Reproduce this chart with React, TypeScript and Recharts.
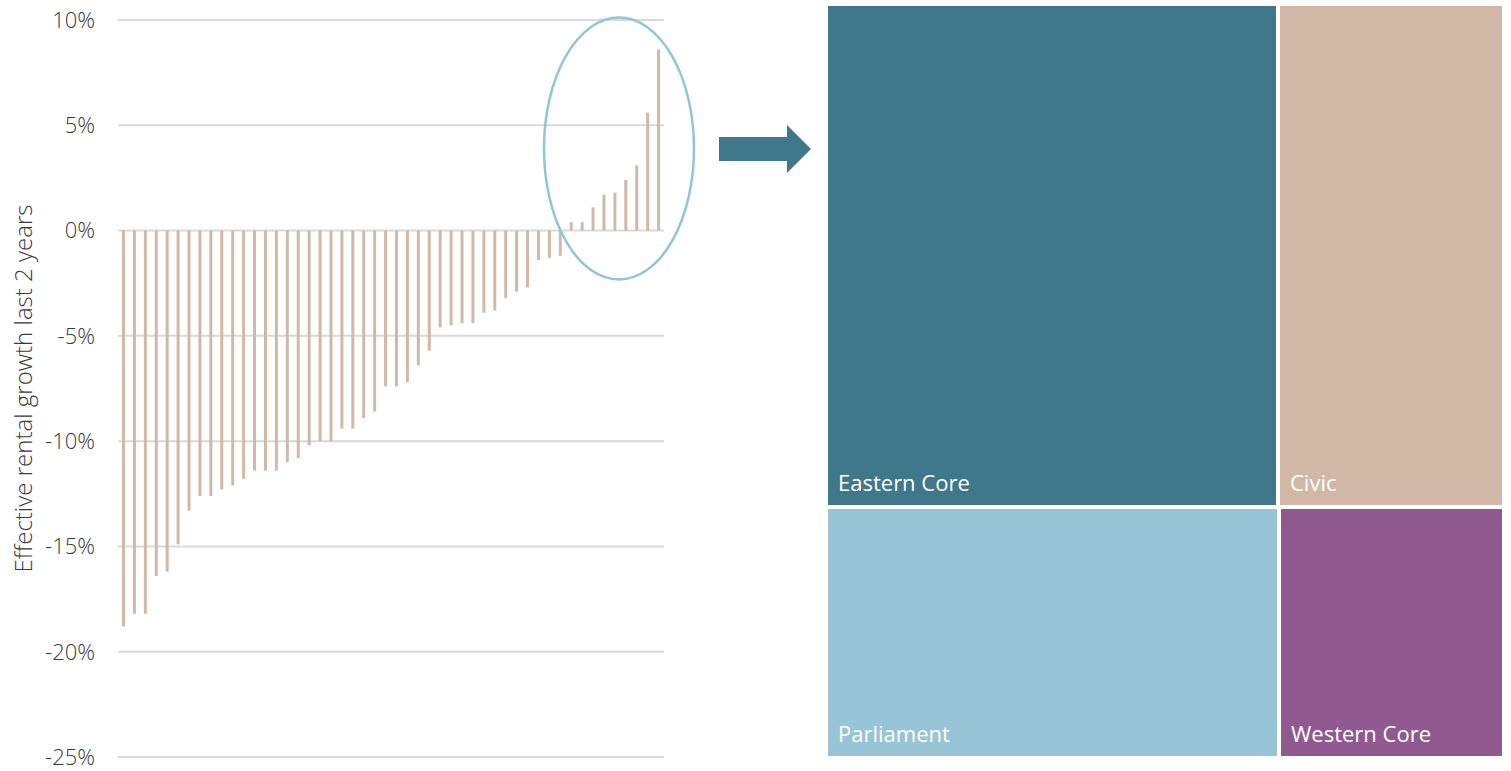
import React from 'react';
import { BarChart, Bar, XAxis, YAxis, CartesianGrid, Treemap } from 'recharts';

// Effective rental growth over the last 2 years, per submarket, sorted ascending (%)
const growthValues = [
  -18.8, -18.2, -18.2, -16.4, -16.2, -14.9, -13.3, -12.6, -12.6, -12.3,
  -12.1, -11.8, -11.4, -11.4, -11.4, -11.0, -10.8, -10.2, -10.0, -10.0,
  -9.4, -9.4, -8.9, -8.6, -7.4, -7.4, -7.2, -6.4, -5.7, -4.6,
  -4.5, -4.4, -4.4, -3.9, -3.8, -3.2, -2.9, -2.7, -1.4, -1.3,
  -1.2, 0.4, 0.4, 1.1, 1.7, 1.8, 2.4, 3.1, 5.6, 8.6,
];
const submarkets = growthValues.map((_, i) => `Submarket ${i + 1}`);
const yTicks = [-25, -20, -15, -10, -5, 0, 5, 10];

// Share of the positive-growth submarkets by precinct
const precinctNames = ['Eastern Core', 'Civic', 'Parliament', 'Western Core'];
const precinctShares = [40, 20, 20, 10];
const precinctColors = ['#40788b', '#d1b8a6', '#98c5d5', '#905a91'];

const barData = submarkets.map((name, i) => ({ name, growth: growthValues[i] }));
const treeData = precinctNames.map((name, i) => ({ name, size: precinctShares[i], idx: i }));

const FONT = '"Open Sans", "Segoe UI", sans-serif';

const PrecinctCell = (props: any) => {
  const { x, y, width, height, depth, name, idx } = props;
  if (depth !== 1) return null;
  const gap = 2;
  const rx = x + gap;
  const ry = y + gap;
  const rw = width - gap * 2;
  const rh = height - gap * 2;
  return (
    <g>
      <rect x={rx} y={ry} width={rw} height={rh} fill={precinctColors[idx]} stroke="none" />
      <text
        x={rx + 10}
        y={ry + rh - 14}
        fill="#ffffff"
        fontSize={22}
        fontFamily={FONT}
        stroke="none"
      >
        {name}
      </text>
    </g>
  );
};

const AxisTitle = (props: any) => {
  const vb = props.viewBox || {};
  const cx = (vb.x ?? 0) + 32;
  const cy = (vb.y ?? 0) + (vb.height ?? 0) / 2;
  return (
    <text
      transform={`translate(${cx}, ${cy}) rotate(-90)`}
      textAnchor="middle"
      fill="#3a3a3a"
      fontSize={24}
      fontWeight={300}
      fontFamily={FONT}
    >
      Effective rental growth last 2 years
    </text>
  );
};

export default function App() {
  return (
    <div style={{ position: 'absolute', left: 0, top: 0, width: 1511, height: 771, background: '#ffffff' }}>
      <div style={{ position: 'absolute', left: 0, top: 0 }}>
        <BarChart
          width={680}
          height={771}
          data={barData}
          margin={{ top: 20, right: 16, bottom: 14, left: 0 }}
        >
          <CartesianGrid vertical={false} stroke="#d9d9d9" strokeWidth={2} />
          <XAxis dataKey="name" hide />
          <YAxis
            width={118}
            domain={[-25, 10]}
            ticks={yTicks}
            axisLine={false}
            tickLine={false}
            tickMargin={17}
            tickFormatter={(v: number) => `${v}%`}
            tick={{ fill: '#3a3a3a', fontSize: 22, fontFamily: FONT, fontWeight: 300 }}
            label={<AxisTitle />}
          />
          <Bar dataKey="growth" fill="#d2b8a6" barSize={3} isAnimationActive={false} />
        </BarChart>
      </div>

      {/* highlight of the positive-growth submarkets and pointer to the breakdown */}
      <svg
        width={830}
        height={771}
        style={{ position: 'absolute', left: 0, top: 0, pointerEvents: 'none' }}
      >
        <ellipse cx={619} cy={148.5} rx={75} ry={131} fill="none" stroke="#92c5d5" strokeWidth={2.5} />
        <polygon
          points="719,137 787,137 787,125 811,149 787,173 787,161 719,161"
          fill="#40788b"
        />
      </svg>

      <div style={{ position: 'absolute', left: 826, top: 4 }}>
        <Treemap
          width={678}
          height={754}
          data={treeData}
          dataKey="size"
          nameKey="name"
          isAnimationActive={false}
          content={<PrecinctCell />}
        />
      </div>
    </div>
  );
}
